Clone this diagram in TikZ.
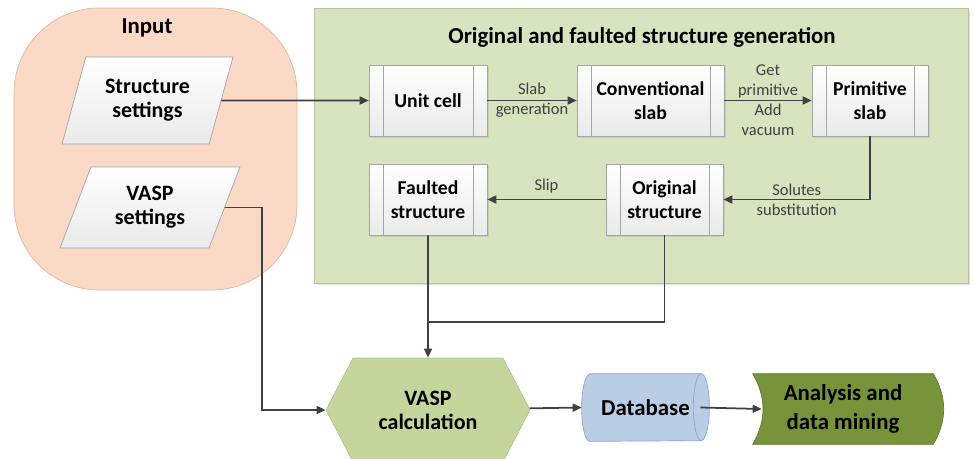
\documentclass[tikz,border=0pt]{standalone}
\usepackage{fontspec}
\setmainfont{Carlito}
\definecolor{inputfill}{RGB}{250,217,198}
\definecolor{inputline}{RGB}{224,184,160}
\definecolor{genfill}{RGB}{216,227,192}
\definecolor{genline}{RGB}{186,196,164}
\definecolor{boxline}{RGB}{165,165,165}
\definecolor{boxgray}{RGB}{234,234,234}
\definecolor{hexfill}{RGB}{196,214,155}
\definecolor{hexline}{RGB}{178,198,138}
\definecolor{dbfill}{RGB}{185,205,229}
\definecolor{dbline}{RGB}{140,168,204}
\definecolor{anafill}{RGB}{119,147,60}
\definecolor{analine}{RGB}{98,122,48}
\definecolor{arrgray}{RGB}{64,64,64}
\usepackage{tikz}
\usetikzlibrary{shapes.geometric, shapes.symbols, arrows.meta, shadows, backgrounds}

\begin{document}
\begin{tikzpicture}[x=0.02cm, y=0.02cm,
  pbox/.style={draw=boxline, top color=white, bottom color=boxgray, minimum height=1.42cm, align=center,
    font=\fontsize{11.2}{14}\selectfont\bfseries,
    drop shadow={shadow xshift=0.04cm, shadow yshift=-0.04cm, opacity=0.2},
    path picture={\draw[boxline] ([xshift=0.28cm]path picture bounding box.north west) -- ([xshift=0.28cm]path picture bounding box.south west)
      ([xshift=-0.28cm]path picture bounding box.north east) -- ([xshift=-0.28cm]path picture bounding box.south east);}},
  para/.style={trapezium, trapezium stretches body, draw=boxline, top color=white, bottom color=boxgray, align=center,
    font=\fontsize{12.5}{13.5}\selectfont\bfseries},
  arr/.style={draw=arrgray, line width=1pt, -{Triangle[length=0.18cm, width=0.16cm]}},
  line/.style={draw=arrgray, line width=1pt},
  lbl/.style={font=\fontsize{9.4}{11.4}\selectfont, text=arrgray, align=center},
  big/.style={align=center, font=\fontsize{13}{15}\selectfont\bfseries},
  dbcap/.style={x radius=0.16cm, y radius=0.67cm}
]
  \useasboundingbox (0,0) rectangle (974,-459);

  \node (inp) [draw=inputline, fill=inputfill, rounded corners=1.7cm, minimum width=5.66cm, minimum height=5.64cm] at (155.5,-149) {};
  \node (inptitle) [big] at (147,-28) {Input};
  \node (ss) [para, trapezium left angle=66, trapezium right angle=114, minimum width=3.42cm, minimum height=1.74cm] at (147.5,-100.5) {Structure\\settings};
  \node (vs) [para, trapezium left angle=60, trapezium right angle=120, minimum width=3.6cm, minimum height=1.62cm] at (150,-207.5) {VASP\\settings};

  \node (gen) [draw=genline, fill=genfill, minimum width=13.08cm, minimum height=5.5cm,
    drop shadow={shadow xshift=0.05cm, shadow yshift=-0.05cm, opacity=0.25}] at (641,-145.5) {};
  \node (gentitle) [big] at (642,-37) {Original and faulted structure generation};

  \node (unit) [pbox, minimum width=2.36cm] at (428,-100.5) {Unit cell};
  \node (conv) [pbox, minimum width=2.94cm] at (650.5,-100.5) {Conventional\\slab};
  \node (prim) [pbox, minimum width=2.32cm] at (870,-100.5) {Primitive\\slab};
  \node (fault) [pbox, minimum width=2.36cm] at (428,-199.5) {Faulted\\structure};
  \node (orig) [pbox, minimum width=2.34cm] at (664.5,-199.5) {Original\\structure};

  \node (hex) [signal, signal to=west and east, signal pointer angle=125, draw=hexline, fill=hexfill,
    minimum width=4.08cm, minimum height=2.08cm, big, font=\fontsize{12.5}{13.6}\selectfont\bfseries] at (428,-410) {VASP\\calculation};
  \node (db) [minimum width=2.54cm, minimum height=1.34cm, big] at (645.5,-407.5) {Database};
  \node (ana) [minimum width=3.6cm, minimum height=1.4cm, big, font=\fontsize{13}{16.4}\selectfont\bfseries] at (843,-409) {Analysis and\\data mining};
  \begin{scope}[on background layer]
    \draw[draw=dbline, fill=dbfill] ([xshift=0.16cm]db.north west) -- ([xshift=-0.16cm]db.north east)
      arc[start angle=90, end angle=-90, dbcap] -- ([xshift=0.16cm]db.south west)
      arc[start angle=270, end angle=90, dbcap] -- cycle;
    \draw[dbline] ([xshift=-0.16cm]db.north east) arc[start angle=90, end angle=270, dbcap];
    \draw[draw=analine, fill=anafill] (ana.north west) -- (ana.north east) to[bend left=30] (ana.south east)
      -- (ana.south west) to[bend right=30] (ana.north west);
  \end{scope}

  \coordinate (join) at (428,-322);
  \draw[arr] (ss.east) -- (unit.west);
  \draw[arr] (unit) -- node[lbl] {Slab\\generation} (conv);
  \draw[arr] (conv) -- node[lbl] {Get\\primitive\\Add\\vacuum} (prim);
  \draw[arr] (prim) |- node[lbl, pos=0.75] {Solutes\\substitution} (orig);
  \draw[arr] (orig) -- node[lbl, above] {Slip} (fault);
  \draw[arr] (fault) -- (hex);
  \draw[line] (orig.south) |- (join);
  \draw[arr] (vs.east) -- ++(37,0) |- (hex.west);
  \draw[arr] (hex) -- (db.west);
  \draw[arr] ([xshift=-0.18cm]db.east) -- ([xshift=0.18cm]ana.west);
\end{tikzpicture}
\end{document}
